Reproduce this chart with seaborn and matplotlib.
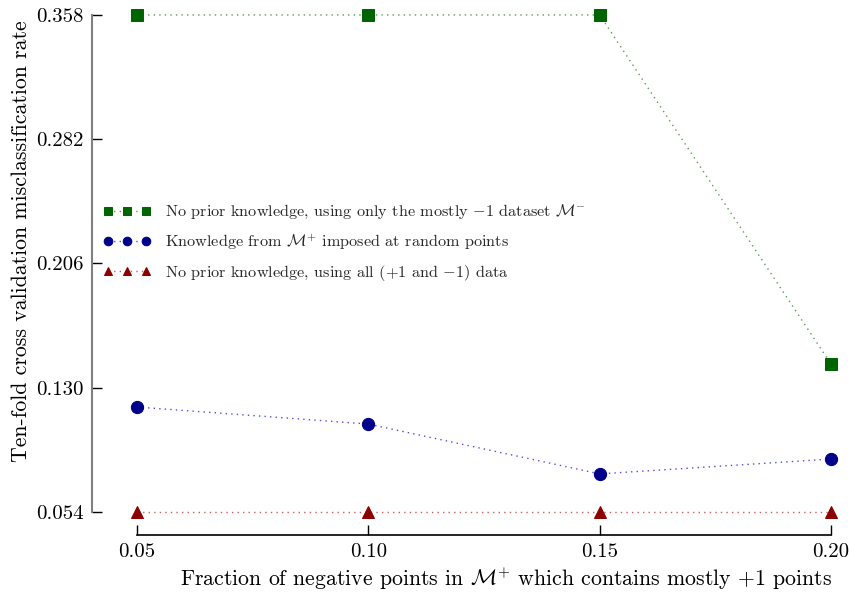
import numpy as np
import pandas as pd
import matplotlib
matplotlib.use("Agg")
import matplotlib.pyplot as plt
import seaborn as sns

fractions = [0.05, 0.10, 0.15, 0.20]
no_prior_minus = [0.358, 0.358, 0.358, 0.1445]
knowledge_plus = [0.1182, 0.1078, 0.0773, 0.0864]
no_prior_all = [0.054, 0.054, 0.054, 0.054]
yticks = [0.054, 0.130, 0.206, 0.282, 0.358]
xticks = [0.05, 0.10, 0.15, 0.20]

labels = [
    r"No prior knowledge, using only the mostly $-1$ dataset $\mathcal{M}^{-}$",
    r"Knowledge from $\mathcal{M}^{+}$ imposed at random points",
    r"No prior knowledge, using all (+1 and $-1$) data",
]

sns.set_theme(style="ticks")
plt.rcParams["font.family"] = ["cmr10", "DejaVu Serif"]
plt.rcParams["mathtext.fontset"] = "cm"
plt.rcParams["axes.unicode_minus"] = False
plt.rcParams["axes.formatter.use_mathtext"] = True

fig = plt.figure(figsize=(8.49, 5.93), dpi=100)
ax = fig.add_axes([92 / 849, 58 / 593, (845 - 92) / 849, (535 - 5) / 593])

series = [
    (no_prior_minus, "#006400", "#5a9a5a", "s", 8.7),
    (knowledge_plus, "#00008b", "#5050d0", "o", 8.8),
    (no_prior_all, "#8b0000", "#c86060", "^", 8.8),
]
for (vals, mc, lc, mk, ms), lab in zip(series, labels):
    sns.lineplot(x=fractions, y=vals, ax=ax, color=lc, linewidth=1.0,
                 marker=mk, markersize=ms, markerfacecolor=mc, markeredgecolor=mc,
                 label=lab, clip_on=False, zorder=3, dashes=False)
for line in ax.get_lines():
    line.set_linestyle((0, (1, 3)))

# axis limits derived so that ticks land where the reference puts them
ax.set_xlim(0.04027, 0.20303)
ax.set_ylim(0.03993, 0.3641)
ax.set_xticks(xticks)
ax.set_xticklabels([f"{v:.2f}" for v in xticks])
ax.set_yticks(yticks)
ax.set_yticklabels([f"{v:.3f}" for v in yticks])

for s in ["top", "right"]:
    ax.spines[s].set_visible(False)
ax.spines["left"].set_bounds(yticks[0], yticks[-1])
ax.spines["bottom"].set_bounds(xticks[0], xticks[-1])
ax.spines["left"].set_color("#808080")
ax.spines["left"].set_linewidth(1.5)
ax.spines["bottom"].set_color("black")
ax.spines["bottom"].set_linewidth(1.2)
ax.tick_params(axis="both", direction="in", length=7, width=1.0, color="black",
               labelsize=15, labelcolor="black", pad=6)

ax.set_xlabel(r"Fraction of negative points in $\mathcal{M}^{+}$ which contains mostly +1 points",
              fontsize=15.7, color="black")
ax.set_ylabel("Ten-fold cross validation misclassification rate", fontsize=15.7, color="black")
ax.xaxis.set_label_coords((506 - 92) / (845 - 92), -(566 - 535) / (535 - 5))
ax.yaxis.set_label_coords(-(92 - 31) / (845 - 92), (535 - 241) / (535 - 5))

leg = ax.legend(loc="upper left", bbox_to_anchor=(0.0, (535 - 192) / (535 - 5)), frameon=False,
                fontsize=11.7, numpoints=3, markerscale=0.7, handlelength=2.9,
                handletextpad=0.9, labelspacing=0.68, borderaxespad=0.3)
for h in leg.legend_handles:
    h.set_linestyle((0, (1, 3)))

fig.savefig("out.png", dpi=100)
